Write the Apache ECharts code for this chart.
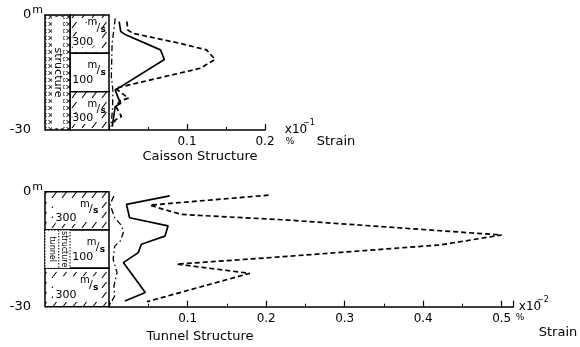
<!DOCTYPE html>
<html><head><meta charset="utf-8">
<script src="https://cdn.jsdelivr.net/npm/echarts@6/dist/echarts.min.js"></script>
<style>html,body{margin:0;padding:0;background:#fff}#c{width:580px;height:347px}</style>
</head><body><div id="c"></div>
<script>
// ---------- data ----------
const layerTop = [0, 10, 20];
const layerBottom = [10, 20, 30];
const layerVelocity = [300, 100, 300];
const caissonStructureSpan = [0, 30];
const tunnelStructureSpan = [10, 20];
const depthTicks = [0, 30];

// Caisson structure (strain, x10^-1 %)
const caissonSolidDepth  = [1.7, 4.3, 5.0, 9.1, 11.6, 19.6, 21.7, 23.0, 23.9, 26.5, 29.1];
const caissonSolidStrain = [0.013, 0.015, 0.020, 0.066, 0.071, 0.008, 0.012, 0.015, 0.008, 0.006, 0.004];
const caissonDashDepth   = [1.7, 3.9, 4.8, 7.4, 8.7, 9.1, 11.6, 13.9, 19.1, 21.7, 22.4, 23.9, 26.5, 27.4, 28.9];
const caissonDashStrain  = [0.023, 0.024, 0.031, 0.091, 0.117, 0.125, 0.136, 0.117, 0.008, 0.025, 0.014, 0.009, 0.016, 0.008, 0.005];
const caissonDotDepth    = [0.9, 7.4, 16.1, 19.6, 24.8, 29.1];
const caissonDotStrain   = [0.008, 0.004, 0.003, 0.005, 0.0045, 0.0023];

// Tunnel structure (strain, x10^-2 %)
const tunnelSolidDepth  = [1.1, 3.3, 6.8, 8.9, 11.6, 13.7, 15.9, 18.5, 26.3, 28.5];
const tunnelSolidStrain = [0.077, 0.022, 0.026, 0.075, 0.071, 0.041, 0.037, 0.018, 0.046, 0.020];
const tunnelDashDepth   = [0.9, 3.5, 4.6, 5.9, 6.2, 7.4, 11.3, 13.9, 17.0, 18.9, 21.3, 28.7];
const tunnelDashStrain  = [0.203, 0.052, 0.069, 0.092, 0.116, 0.228, 0.50, 0.421, 0.218, 0.086, 0.179, 0.048];
const tunnelDotDepth    = [1.1, 3.3, 6.8, 8.9, 10.7, 12.9, 14.2, 17.6, 21.1, 24.6, 27.2, 29.4];
const tunnelDotStrain   = [0.006, 0.001, 0.007, 0.016, 0.018, 0.014, 0.007, 0.005, 0.010, 0.006, 0.007, 0.001];

const caissonTicks = [0.1, 0.2];
const tunnelTicks = [0.1, 0.2, 0.3, 0.4, 0.5];

// ---------- helpers ----------
const FONT = '"DejaVu Sans", sans-serif';
function makePattern(w, h, lw, draw) {
  const c = document.createElement('canvas');
  c.width = w; c.height = h;
  const ctx = c.getContext('2d');
  ctx.fillStyle = '#fff'; ctx.fillRect(0, 0, w, h);
  ctx.strokeStyle = '#000'; ctx.lineWidth = lw;
  ctx.beginPath(); draw(ctx); ctx.stroke();
  return { image: c, repeat: 'repeat' };
}
const hatch = makePattern(10, 10, 1.1, ctx => { ctx.moveTo(2, 8); ctx.lineTo(6.5, 2); });
const cross = makePattern(6, 7, 1, ctx => { ctx.moveTo(0.5, 1); ctx.lineTo(4.5, 5); ctx.moveTo(4.5, 1); ctx.lineTo(0.5, 5); });

const zip = (d, s) => d.map((v, i) => [s[i], v]);
const layerData = layerTop.map((t, i) => [t, layerBottom[i], layerVelocity[i]]);
const STRIP = 25 / 64;

function msLabel(x, y) {
  return [
    { type: 'text', style: { x: x - 5, y: y - 5, text: 'm', font: '10px ' + FONT, fill: '#000', align: 'center', verticalAlign: 'middle' } },
    { type: 'text', style: { x: x + 1, y: y, text: '/', font: '11px ' + FONT, fill: '#000', align: 'center', verticalAlign: 'middle' } },
    { type: 'text', style: { x: x + 6, y: y + 2, text: 's', font: 'bold 9px ' + FONT, fill: '#000', align: 'center', verticalAlign: 'middle' } }
  ];
}

function layerRender(kind) {
  return function (params, api) {
    const top = api.value(0), bot = api.value(1), vel = api.value(2);
    const x0 = kind === 'caisson' ? STRIP : 0;
    const p0 = api.coord([x0, top]);
    const p1 = api.coord([1, bot]);
    const w = p1[0] - p0[0], h = p1[1] - p0[1];
    const children = [];
    if (vel >= 300) {
      children.push({ type: 'rect', shape: { x: p0[0], y: p0[1], width: w, height: h }, style: { fill: hatch } });
      children.push({ type: 'rect', shape: { x: p0[0] + 8, y: p0[1] + 8, width: w - 16, height: h - 16 }, style: { fill: '#fff' } });
    } else {
      children.push({ type: 'rect', shape: { x: p0[0], y: p0[1], width: w, height: h }, style: { fill: '#fff' } });
    }
    children.push({ type: 'rect', shape: { x: p0[0], y: p0[1], width: w, height: h }, style: { fill: null, stroke: '#000', lineWidth: 1.5 } });
    let lx = p0[0], lw = w;
    if (kind === 'tunnel' && vel < 300) { const s = api.coord([STRIP, top]); lx = s[0]; lw = p1[0] - s[0]; }
    children.push({ type: 'text', style: { x: lx + 0.33 * lw, y: p0[1] + 0.7 * h, text: String(vel), font: '11px ' + FONT, fill: '#000', align: 'center', verticalAlign: 'middle', backgroundColor: '#fff' } });
    const mx = lx + (kind === 'caisson' ? 0.7 : (vel < 300 ? 0.68 : 0.7)) * lw;
    const my = p0[1] + (kind === 'caisson' && vel >= 300 && top === 0 ? 0.33 : 0.45) * h;
    msLabel(mx, my).forEach(c => children.push(c));
    return { type: 'group', children };
  };
}

function strucRender(kind) {
  return function (params, api) {
    const p0 = api.coord([0, api.value(0)]);
    const p1 = api.coord([STRIP, api.value(1)]);
    const w = p1[0] - p0[0], h = p1[1] - p0[1];
    const ch = [];
    if (kind === 'caisson') {
      ch.push({ type: 'rect', shape: { x: p0[0], y: p0[1], width: w, height: h }, style: { fill: cross } });
      ch.push({ type: 'rect', shape: { x: p0[0] + 7, y: p0[1] + 2, width: w - 14, height: h - 4 }, style: { fill: '#fff' } });
      ch.push({ type: 'rect', shape: { x: p0[0], y: p0[1], width: w, height: h }, style: { fill: null, stroke: '#000', lineWidth: 1.5 } });
      ch.push({ type: 'text', x: p0[0] + w / 2, y: p0[1] + h * 0.5, rotation: -Math.PI / 2,
        style: { x: 0, y: 0, text: 'structure', font: '11px ' + FONT, fill: '#000', align: 'center', verticalAlign: 'middle' } });
    } else {
      ch.push({ type: 'rect', shape: { x: p0[0], y: p0[1], width: w, height: h }, style: { fill: '#fff', stroke: '#000', lineWidth: 1, lineDash: [1.5, 1.5] } });
      ch.push({ type: 'line', shape: { x1: p0[0] + w * 0.55, y1: p0[1], x2: p0[0] + w * 0.55, y2: p1[1] }, style: { stroke: '#000', lineWidth: 1, lineDash: [1.5, 1.5] } });
      ch.push({ type: 'text', x: p0[0] + w * 0.3, y: p0[1] + h / 2, rotation: -Math.PI / 2,
        style: { x: 0, y: 0, text: 'tunnel', font: '8px ' + FONT, fill: '#000', align: 'center', verticalAlign: 'middle' } });
      ch.push({ type: 'text', x: p0[0] + w * 0.77, y: p0[1] + h / 2, rotation: -Math.PI / 2,
        style: { x: 0, y: 0, text: 'structure', font: '8px ' + FONT, fill: '#000', align: 'center', verticalAlign: 'middle' } });
    }
    return { type: 'group', children: ch };
  };
}

const chart = echarts.init(document.getElementById('c'), null, { renderer: 'canvas' });

const boxYAxis = (gi) => ({
  gridIndex: gi, type: 'value', min: 0, max: 30, interval: 30, inverse: true,
  axisLine: { show: false }, axisTick: { show: false }, splitLine: { show: false },
  axisLabel: {
    margin: 2, color: '#000', fontFamily: FONT,
    formatter: v => v === depthTicks[0] ? '{v|0}{sup|m}' : '{v|-30}{pad|}',
    rich: {
      v: { fontSize: 13, fontFamily: FONT, color: '#000' },
      sup: { fontSize: 11, fontFamily: FONT, color: '#000', padding: [0, 0, 9, 1] },
      pad: { width: 12 }
    }
  }
});
const hiddenY = (gi) => ({ gridIndex: gi, type: 'value', min: 0, max: 30, inverse: true, show: false });
const boxX = (gi) => ({ gridIndex: gi, type: 'value', min: 0, max: 1, show: false });
const strainX = (gi, max, ticks) => ({
  gridIndex: gi, type: 'value', min: 0, max, interval: 0.1, position: 'bottom',
  axisLine: { show: true, onZero: false, lineStyle: { color: '#000', width: 1.6 } },
  axisTick: { show: true, inside: true, length: 6, lineStyle: { color: '#000', width: 1.2 } },
  minorTick: { show: true, splitNumber: 2, length: 3, lineStyle: { color: '#000', width: 1 } },
  splitLine: { show: false },
  axisLabel: {
    margin: 6, color: '#000', fontSize: 12, fontFamily: FONT,
    formatter: v => ticks.some(t => Math.abs(t - v) < 1e-6) ? v.toFixed(1) : ''
  }
});

const lineS = (xi, yi, data, type, w) => ({
  type: 'line', xAxisIndex: xi, yAxisIndex: yi, data, symbol: 'none', silent: true,
  lineStyle: { color: '#000', width: w || 1.5, type }, z: 3
});

const txt = (x, y, text, size, extra) => ({ type: 'text', x, y, style: Object.assign({ text, font: size + 'px ' + FONT, fill: '#000', align: 'center', verticalAlign: 'middle' }, extra || {}) });

chart.setOption({
  animation: false,
  backgroundColor: '#fff',
  grid: [
    { left: 45, top: 15, width: 64, height: 115 },
    { left: 109, top: 15, width: 156, height: 115 },
    { left: 45, top: 191.7, width: 64, height: 115 },
    { left: 109.2, top: 191.7, width: 785 * 0.515, height: 115 }
  ],
  xAxis: [boxX(0), strainX(1, 0.2, caissonTicks), boxX(2), strainX(3, 0.515, tunnelTicks)],
  yAxis: [boxYAxis(0), hiddenY(1), boxYAxis(2), hiddenY(3)],
  series: [
    { type: 'custom', xAxisIndex: 0, yAxisIndex: 0, data: layerData, renderItem: layerRender('caisson'), silent: true },
    { type: 'custom', xAxisIndex: 0, yAxisIndex: 0, data: [caissonStructureSpan], renderItem: strucRender('caisson'), silent: true },
    { type: 'custom', xAxisIndex: 2, yAxisIndex: 2, data: layerData, renderItem: layerRender('tunnel'), silent: true },
    { type: 'custom', xAxisIndex: 2, yAxisIndex: 2, data: [tunnelStructureSpan], renderItem: strucRender('tunnel'), silent: true, z: 3 },
    lineS(1, 1, zip(caissonSolidDepth, caissonSolidStrain), 'solid', 1.7),
    lineS(1, 1, zip(caissonDashDepth, caissonDashStrain), [5, 3], 1.7),
    lineS(1, 1, zip(caissonDotDepth, caissonDotStrain), [6, 3, 1.5, 3], 1.3),
    lineS(3, 3, zip(tunnelSolidDepth, tunnelSolidStrain), 'solid', 1.7),
    lineS(3, 3, zip(tunnelDashDepth, tunnelDashStrain), [5, 3], 1.7),
    lineS(3, 3, zip(tunnelDotDepth, tunnelDotStrain), [6, 3, 1.5, 3], 1.3)
  ],
  graphic: [
    txt(296, 130, 'x10', 12),
    txt(309, 123, '\u22121', 8),
    txt(290, 142, '%', 9),
    txt(336, 142, 'Strain', 13),
    txt(200, 157, 'Caisson Structure', 13),
    txt(530, 307, 'x10', 12),
    txt(543, 300, '\u22122', 8),
    txt(520, 318, '%', 9),
    txt(558, 333, 'Strain', 13),
    txt(200, 337, 'Tunnel Structure', 13)
  ]
});
</script></body></html>
